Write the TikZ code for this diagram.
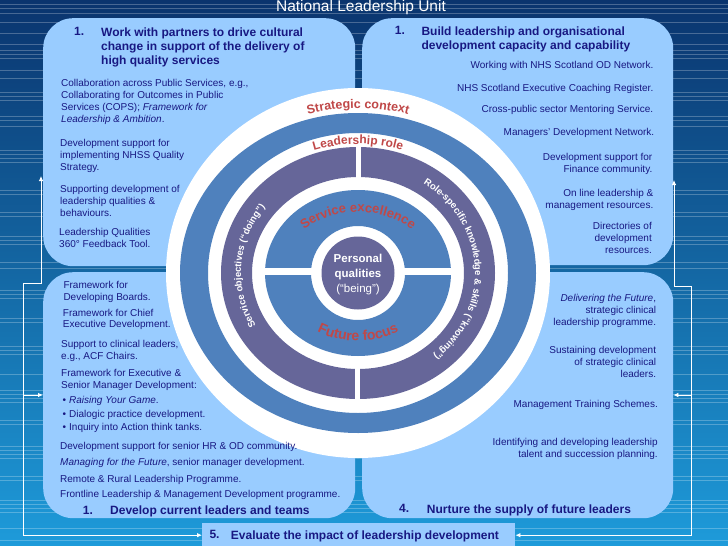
\documentclass[tikz,border=0pt]{standalone}
\usepackage{fontspec}
\setmainfont{Liberation Sans}
\setsansfont{Liberation Sans}
\usetikzlibrary{arrows.meta,decorations.text}
\definecolor{bgtop}{RGB}{10,52,110}
\definecolor{bgmid}{RGB}{16,96,168}
\definecolor{bgbot}{RGB}{30,155,218}
\definecolor{boxblue}{RGB}{153,204,255}
\definecolor{ringblue}{RGB}{79,129,189}
\definecolor{ringpurple}{RGB}{102,102,153}
\definecolor{navytext}{RGB}{24,24,130}
\definecolor{redtext}{RGB}{192,72,72}
\newcommand\ringfont[1]{\fontsize{#1}{#1}\selectfont\bfseries}
\tikzset{
  x=1pt, y=-1pt,
  panel/.style={fill=boxblue, draw=none, rounded corners=30pt, inner sep=0pt, anchor=north west},
  evalpanel/.style={fill=boxblue, draw=none, inner sep=0pt, anchor=north west},
  body/.style={inner sep=0pt, text=navytext, font=\fontsize{10}{11.9}\selectfont},
  bodyl/.style={body, anchor=north west, align=left},
  bodyr/.style={body, anchor=north east, align=right},
  headnum/.style={inner sep=0pt, text=navytext, anchor=north west, font=\fontsize{12}{14.2}\selectfont\bfseries},
  headtxt/.style={headnum, align=left},
  link/.style={draw=white, line width=0.8pt},
  linkarrow/.style={link, -{Latex[length=5pt,width=4.5pt]}},
  stripe/.style={draw=white, opacity=0.25, line width=0.5pt},
}
\begin{document}
\begin{tikzpicture}
\useasboundingbox (0,0) rectangle (728,546);
% background
\shade[top color=bgtop, middle color=bgmid, bottom color=bgbot] (0,0) rectangle (728,546);
\foreach \yy in {4,8,13,22,33,44,50,54,58,70,78,92,96,100,116,120,126,150,154,158,162,190,194,212,216,236,240,244,262,268,290,294,298,318,322,346,350,354,374,390,394,398,402,420,424,446,450,454,458,476,480,500,504,508,512,528,540}
  {\draw[stripe] (0,\yy) -- (728,\yy);}
% title
\node[inner sep=0pt, anchor=base, text=white, font=\fontsize{15.5}{15.5}\selectfont] (title) at (361,12) {National Leadership Unit};
% panels
\node[panel, minimum width=312pt, minimum height=248pt] (tlbox) at (43,18) {};
\node[panel, minimum width=311pt, minimum height=247pt] (trbox) at (362,18) {};
\node[panel, minimum width=312pt, minimum height=246pt] (blbox) at (43,272) {};
\node[panel, minimum width=311pt, minimum height=246pt] (brbox) at (362,272) {};
\node[evalpanel, minimum width=313pt, minimum height=24pt] (evalbox) at (202,523) {};
% connectors
\coordinate (lj) at (23,283);
\coordinate (lup) at (41,283);
\coordinate (luptip) at (41,176);
\coordinate (lb) at (23,395);
\coordinate (rj) at (691,286);
\coordinate (rup) at (674,286);
\coordinate (ruptip) at (674,180);
\coordinate (rb) at (691,395);
\draw[linkarrow] (lj) -- (lup) -- (luptip);
\draw[linkarrow] (lj) |- (evalbox.west);
\draw[linkarrow] (lb) -- (blbox.west |- lb);
\draw[linkarrow] (rj) -- (rup) -- (ruptip);
\draw[linkarrow] (rj) |- (evalbox.east);
\draw[linkarrow] (rb) -- (brbox.east |- rb);
% circle
\begin{scope}[shift={(358,273)}, y=1pt]
  \fill[white] (0,0) ellipse [x radius=192pt, y radius=185pt];
  \fill[ringblue, even odd rule] (0,0) ellipse [x radius=178pt, y radius=160pt] (0,0) ellipse [x radius=150pt, y radius=140pt];
  \fill[ringpurple, even odd rule] (0,0) ellipse [x radius=137pt, y radius=126pt] (0,0) ellipse [x radius=106pt, y radius=96pt];
  \fill[white] (-2.5,88) rectangle (2.5,130);
  \fill[white] (-3,-130) rectangle (2,-88);
  \fill[ringblue, even odd rule] (0,0) ellipse [x radius=93pt, y radius=83pt] (0,0) circle [radius=47pt];
  \fill[white] (-96,-1.5) rectangle (96,5);
  \fill[ringpurple] (0,0) circle [radius=36.5pt];
  \path[decorate, decoration={text along path, text align=center, text color=redtext,
      text={|\ringfont{12.5}|Strategic context}}]
    (122:180pt and 165pt) arc [start angle=122, end angle=58, x radius=180pt, y radius=165pt];
  \path[decorate, decoration={text along path, text align=center, text color=redtext,
      text={|\ringfont{12}|Leadership role}}]
    (122:141pt and 129pt) arc [start angle=122, end angle=58, x radius=141pt, y radius=129pt];
  \path[decorate, decoration={text along path, text align=center, text color=white,
      text={|\ringfont{9.5}|Service objectives (“doing”)}}]
    (246:117pt and 108pt) arc [start angle=246, end angle=106, x radius=117pt, y radius=108pt];
  \path[decorate, decoration={text along path, text align=center, text color=white,
      text={|\ringfont{9.5}|Role-specific knowledge {\&} skills (“knowing”)}}]
    (76:117pt and 108pt) arc [start angle=76, end angle=-70, x radius=117pt, y radius=108pt];
  \path[decorate, decoration={text along path, text align=center, text color=redtext,
      text={|\ringfont{13}|Service excellence}}]
    (165:76pt and 61pt) arc [start angle=165, end angle=15, x radius=76pt, y radius=61pt];
  \path[decorate, decoration={text along path, text align=center, text color=redtext,
      text={|\ringfont{14}|Future focus}}]
    (200:80pt and 68pt) arc [start angle=200, end angle=340, x radius=80pt, y radius=68pt];
  \node[align=center, text=white, inner sep=0pt, font=\fontsize{11.5}{15}\selectfont] (pq) at (0,-1.5)
    {\textbf{Personal}\\\textbf{qualities}\\(“being”)};
\end{scope}
% top-left panel
\node[headnum] (tlnum) at (74,27.2) {1.};
\node[headtxt] (tlhead) at (101,27.2) {Work with partners to drive cultural\\change in support of the delivery of\\high quality services};
\node[bodyl] (tl1) at (61,79) {Collaboration across Public Services, e.g.,\\Collaborating for Outcomes in Public\\Services (COPS); \textit{Framework for}\\\textit{Leadership \& Ambition}.};
\node[bodyl] (tl2) at (60,139) {Development support for\\implementing NHSS Quality\\Strategy.};
\node[bodyl] (tl3) at (60,185) {Supporting development of\\leadership qualities \&\\behaviours.};
\node[bodyl] (tl4) at (59,228) {Leadership Qualities\\360° Feedback Tool.};
% top-right panel
\node[headnum] (trnum) at (394.7,26.2) {1.};
\node[headtxt] (trhead) at (421.3,26.2) {Build leadership and organisational\\development capacity and capability};
\node[bodyr] (tr1) at (653.5,61.3) {Working with NHS Scotland OD Network.};
\node[bodyr] (tr2) at (653.5,83.6) {NHS Scotland Executive Coaching Register.};
\node[bodyr] (tr3) at (653.5,104.6) {Cross-public sector Mentoring Service.};
\node[bodyr] (tr4) at (654.5,128) {Managers’ Development Network.};
\node[bodyr] (tr5) at (652.5,153) {Development support for\\Finance community.};
\node[bodyr] (tr6) at (653.5,189) {On line leadership \&\\management resources.};
\node[bodyr] (tr7) at (652,222.3) {Directories of\\development\\resources.};
% bottom-left panel
\node[bodyl] (bl1) at (63.3,281) {Framework for\\Developing Boards.};
\node[bodyl] (bl2) at (62.7,308.6) {Framework for Chief\\Executive Development.};
\node[bodyl] (bl3) at (61,340) {Support to clinical leaders,\\e.g., ACF Chairs.};
\node[bodyl] (bl4) at (61,369.3) {Framework for Executive \&\\Senior Manager Development:};
\node[bodyl, font=\fontsize{10}{13.6}\selectfont] (bl5) at (62.3,396) {\makebox[6.7pt][l]{•}\textit{Raising Your Game}.\\\makebox[6.7pt][l]{•}Dialogic practice development.\\\makebox[6.7pt][l]{•}Inquiry into Action think tanks.};
\node[bodyl] (bl6) at (60,442) {Development support for senior HR \& OD community.};
\node[bodyl] (bl7) at (60,458.3) {\textit{Managing for the Future}, senior manager development.};
\node[bodyl] (bl8) at (60,475) {Remote \& Rural Leadership Programme.};
\node[bodyl] (bl9) at (60,490) {Frontline Leadership \& Management Development programme.};
\node[headnum] (blnum) at (82.7,505.8) {1.};
\node[headtxt] (blhead) at (110,505.8) {Develop current leaders and teams};
% bottom-right panel
\node[bodyr] (br1) at (656.3,294.3) {\textit{Delivering the Future},\\strategic clinical\\leadership programme.};
\node[bodyr] (br2) at (656.3,346) {Sustaining development\\of strategic clinical\\leaders.};
\node[bodyr] (br3) at (658,400.3) {Management Training Schemes.};
\node[bodyr] (br4) at (658,438.3) {Identifying and developing leadership\\talent and succession planning.};
\node[headnum] (brnum) at (399,504.5) {4.};
\node[headtxt] (brhead) at (426.7,504.5) {Nurture the supply of future leaders};
% evaluate
\node[headnum] (evnum) at (209.3,530.2) {5.};
\node[headtxt] (evhead) at (230.7,530.2) {Evaluate the impact of leadership development};
\end{tikzpicture}
\end{document}
